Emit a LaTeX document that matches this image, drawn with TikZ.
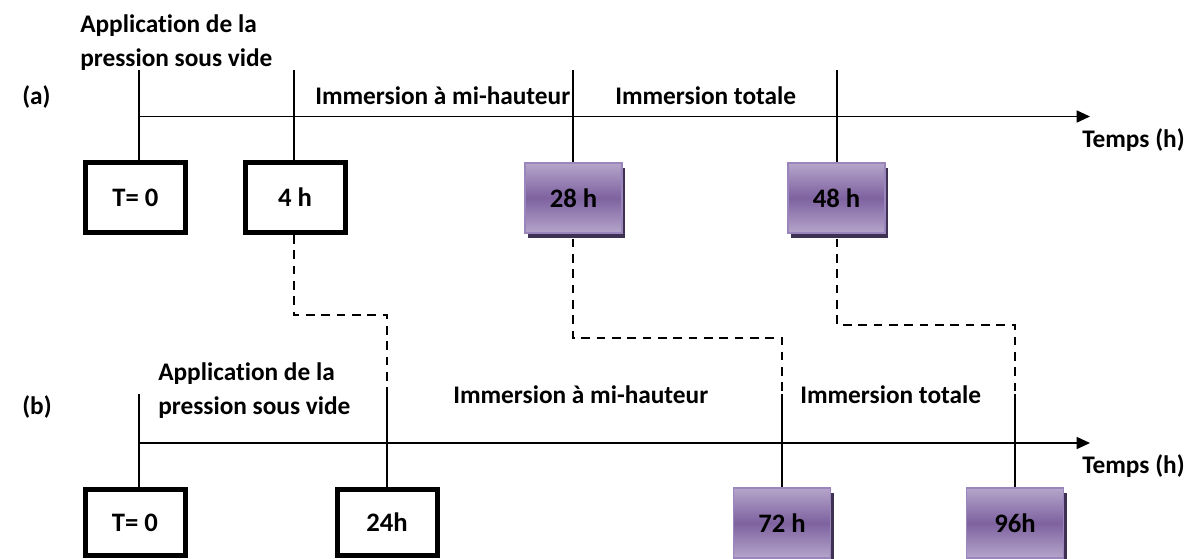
\documentclass[tikz,border=0pt]{standalone}
\usepackage{fontspec}
\setmainfont{Carlito}[Ligatures=NoCommon]
\usepackage{tikz}
\usetikzlibrary{arrows.meta,shadows}
\definecolor{mauveclair}{HTML}{B5A5CA}
\definecolor{mauvefonce}{HTML}{7E62A0}
\definecolor{mauvebord}{HTML}{9A86BC}
\definecolor{ombre}{HTML}{3F3151}

\begin{document}
\begin{tikzpicture}[x=0.75pt,y=-0.75pt,
			axe/.style={-{Triangle[length=10pt,width=9pt]},line width=1.2pt},
			tic/.style={line width=1.2pt},
			lien/.style={line width=1.5pt,dash pattern=on 6.5pt off 5pt},
			bnoir/.style={draw=black,line width=3.75pt,fill=white,minimum width=75pt,minimum height=52.5pt,font=\fontsize{20}{24}\selectfont\bfseries},
			bmauve/.style={draw=mauvebord,line width=0.8pt,top color=mauveclair,bottom color=mauveclair,middle color=mauvefonce,minimum width=72.75pt,minimum height=52.5pt,drop shadow={shadow xshift=2.5pt,shadow yshift=-3.5pt,fill=ombre,opacity=1},font=\fontsize{20}{24}\selectfont\bfseries},
			lab/.style={font=\fontsize{19}{26}\selectfont\bfseries,align=left,inner sep=0pt,anchor=west}]
			\useasboundingbox (0,0) rectangle (1191,558);
			\node[bnoir] (a0) at (135.5,197.5) {T= 0};
			\node[bnoir] (a1) at (295,197.5) {4 h};
			\node[bmauve] (a2) at (573.5,198) {28 h};
			\node[bmauve] (a3) at (836.5,198) {48 h};
			\node[bnoir,minimum height=49.5pt] (b0) at (135,522.5) {T= 0};
			\node[bnoir,minimum height=49.5pt] (b1) at (387,522.5) {24h};
			\node[bmauve] (b2) at (782,523) {72 h};
			\node[bmauve] (b3) at (1015,523) {96h};
			\coordinate (oa) at (139,116.5);
			\coordinate (fa) at (1090,116.5);
			\coordinate (ob) at (139,443);
			\coordinate (fb) at (1090,443);
			\coordinate (ta0) at (139,70);
			\coordinate (ta1) at (294,70);
			\coordinate (ta2) at (573,70);
			\coordinate (ta3) at (837,70);
			\coordinate (tb0) at (139,394);
			\coordinate (tb1) at (387,394);
			\coordinate (tb2) at (782,394);
			\coordinate (tb3) at (1015,394);
			\draw[axe] (oa) -- (fa);
			\draw[axe] (ob) -- (fb);
			\draw[tic] (ta0) -- (ta0 |- a0.north);
			\draw[tic] (ta1) -- (ta1 |- a1.north);
			\draw[tic] (ta2) -- (ta2 |- a2.north);
			\draw[tic] (ta3) -- (ta3 |- a3.north);
			\draw[tic] (tb0) -- (tb0 |- b0.north);
			\draw[tic] (tb1) -- (tb1 |- b1.north);
			\draw[tic] (tb2) -- (tb2 |- b2.north);
			\draw[tic] (tb3) -- (tb3 |- b3.north);
			\draw[lien] (ta1 |- a1.south) -- ++(0,80) -| (tb1);
			\draw[lien] (ta2 |- a2.south) ++(0,5) -- ++(0,99) -| (tb2);
			\draw[lien] (ta3 |- a3.south) ++(0,5) -- ++(0,86) -| (tb3);
			\node[lab] (la) at (22,97) {(a)};
			\node[lab] (pa) at (80,42.5) {Application de la\\pression sous vide};
			\node[lab] (ia) at (315,96) {Immersion à mi-hauteur};
			\node[lab] (ta) at (615,96) {Immersion totale};
			\node[lab] (ha) at (1082,140) {Temps (h)};
			\node[lab] (lb) at (22,407) {(b)};
			\node[lab] (pb) at (158,390.5) {Application de la\\pression sous vide};
			\node[lab] (ib) at (453,395) {Immersion à mi-hauteur};
			\node[lab] (tb) at (800,395) {Immersion totale};
			\node[lab] (hb) at (1082,466) {Temps (h)};
		\end{tikzpicture}
\end{document}
